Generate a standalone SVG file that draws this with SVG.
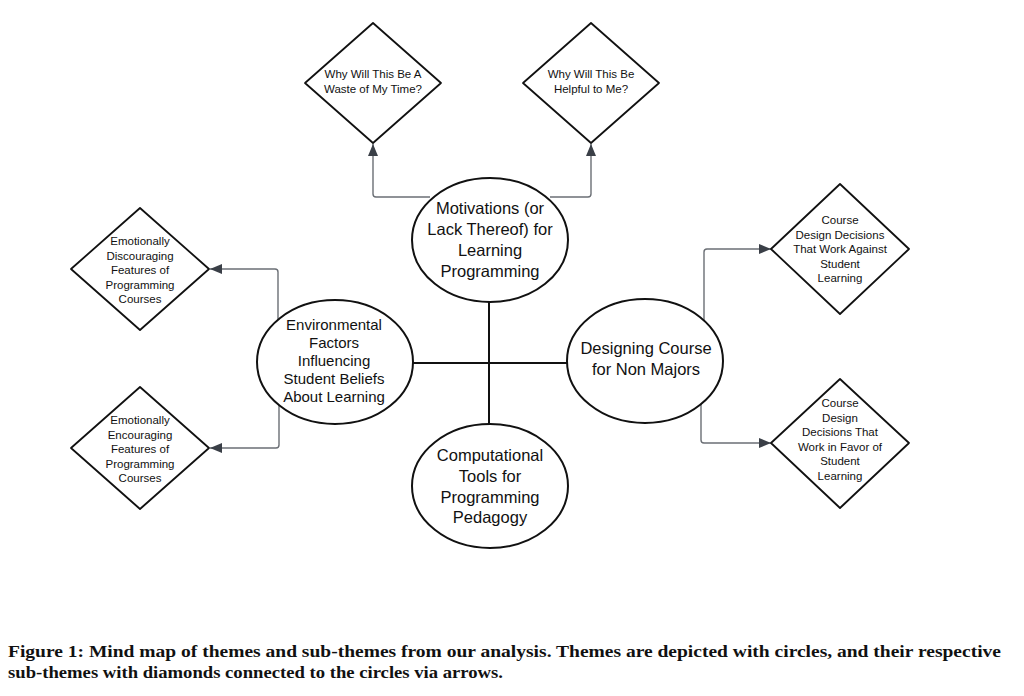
<svg xmlns="http://www.w3.org/2000/svg" width="1024" height="696" viewBox="0 0 1024 696">
<defs>
<marker id="arr" viewBox="0 0 12 10" refX="12" refY="5" markerWidth="12" markerHeight="10" markerUnits="userSpaceOnUse" orient="auto">
<path d="M0,0 L12,5 L0,10 Z" fill="#3a3f47"/>
</marker>
</defs>
<style>
.theme{fill:#fff;stroke:#111;stroke-width:2}
.sub{fill:#fff;stroke:#111;stroke-width:1.8;stroke-linejoin:round}
.conn{fill:none;stroke:#6b6f75;stroke-width:1.4;marker-end:url(#arr)}
.cross{fill:none;stroke:#111;stroke-width:2}
.tt{font-family:"Liberation Sans",Arial,sans-serif;font-size:16.5px;fill:#111;text-anchor:middle}
.te{font-family:"Liberation Sans",Arial,sans-serif;font-size:15px;fill:#111;text-anchor:middle}
.ts{font-family:"Liberation Sans",Arial,sans-serif;font-size:11.5px;fill:#111;text-anchor:middle}
.cap{font-family:"Liberation Serif","Times New Roman",serif;font-size:16px;font-weight:bold;fill:#111}
</style>
<rect width="1024" height="696" fill="#fff"/>
<g id="connectors">
<path class="cross" d="M412,363 H568 M489,302 V424"/>
<path class="conn" d="M430,197 H376 Q373,197 373,194 V144"/>
<path class="conn" d="M550,197 H588 Q591,197 591,194 V144"/>
<path class="conn" d="M278,322 V272 Q278,269 275,269 H210"/>
<path class="conn" d="M279,404 V445 Q279,448 276,448 H210"/>
<path class="conn" d="M704,321 V252 Q704,249 707,249 H771"/>
<path class="conn" d="M701,404 V440 Q701,443 704,443 H771"/>
</g>
<g id="motivations">
<ellipse class="theme" cx="490" cy="240" rx="78" ry="62"/>
<text class="tt"><tspan x="490" y="214">Motivations (or</tspan><tspan x="490" y="235">Lack Thereof) for</tspan><tspan x="490" y="256">Learning</tspan><tspan x="490" y="277">Programming</tspan></text>
</g>
<g id="environmental">
<ellipse class="theme" cx="335" cy="362" rx="78" ry="62"/>
<text class="te"><tspan x="334" y="330">Environmental</tspan><tspan x="334" y="348">Factors</tspan><tspan x="334" y="366">Influencing</tspan><tspan x="334" y="384">Student Beliefs</tspan><tspan x="334" y="402">About Learning</tspan></text>
</g>
<g id="designing">
<ellipse class="theme" cx="645" cy="361" rx="78" ry="62"/>
<text class="tt"><tspan x="646" y="354">Designing Course</tspan><tspan x="646" y="375">for Non Majors</tspan></text>
</g>
<g id="computational">
<ellipse class="theme" cx="490" cy="486" rx="78" ry="62"/>
<text class="tt"><tspan x="490" y="461">Computational</tspan><tspan x="490" y="482">Tools for</tspan><tspan x="490" y="503">Programming</tspan><tspan x="490" y="523">Pedagogy</tspan></text>
</g>
<g id="waste">
<path class="sub" d="M373,23 L441,83 L373,143 L305,83 Z"/>
<text class="ts"><tspan x="373" y="78">Why Will This Be A</tspan><tspan x="373" y="92.5">Waste of My Time?</tspan></text>
</g>
<g id="helpful">
<path class="sub" d="M591,23 L659,83 L591,143 L523,83 Z"/>
<text class="ts"><tspan x="591" y="78">Why Will This Be</tspan><tspan x="591" y="92.5">Helpful to Me?</tspan></text>
</g>
<g id="discouraging">
<path class="sub" d="M140,208 L209,269 L140,330 L71,269 Z"/>
<text class="ts"><tspan x="140" y="245">Emotionally</tspan><tspan x="140" y="259.5">Discouraging</tspan><tspan x="140" y="274">Features of</tspan><tspan x="140" y="288.5">Programming</tspan><tspan x="140" y="303">Courses</tspan></text>
</g>
<g id="encouraging">
<path class="sub" d="M140,387 L209,448 L140,509 L71,448 Z"/>
<text class="ts"><tspan x="140" y="424">Emotionally</tspan><tspan x="140" y="438.5">Encouraging</tspan><tspan x="140" y="453">Features of</tspan><tspan x="140" y="467.5">Programming</tspan><tspan x="140" y="482">Courses</tspan></text>
</g>
<g id="against">
<path class="sub" d="M840,184 L909,249 L840,314 L771,249 Z"/>
<text class="ts"><tspan x="840" y="224">Course</tspan><tspan x="840" y="238.5">Design Decisions</tspan><tspan x="840" y="253">That Work Against</tspan><tspan x="840" y="267.5">Student</tspan><tspan x="840" y="282">Learning</tspan></text>
</g>
<g id="favor">
<path class="sub" d="M840,379 L909,443 L840,508 L771,443 Z"/>
<text class="ts"><tspan x="840" y="407">Course</tspan><tspan x="840" y="421.5">Design</tspan><tspan x="840" y="436">Decisions That</tspan><tspan x="840" y="450.5">Work in Favor of</tspan><tspan x="840" y="465">Student</tspan><tspan x="840" y="479.5">Learning</tspan></text>
</g>
<g id="caption">
<text class="cap" x="8" y="657" textLength="993" lengthAdjust="spacingAndGlyphs">Figure 1: Mind map of themes and sub-themes from our analysis. Themes are depicted with circles, and their respective</text>
<text class="cap" x="8" y="678" textLength="495" lengthAdjust="spacingAndGlyphs">sub-themes with diamonds connected to the circles via arrows.</text>
</g>
</svg>
